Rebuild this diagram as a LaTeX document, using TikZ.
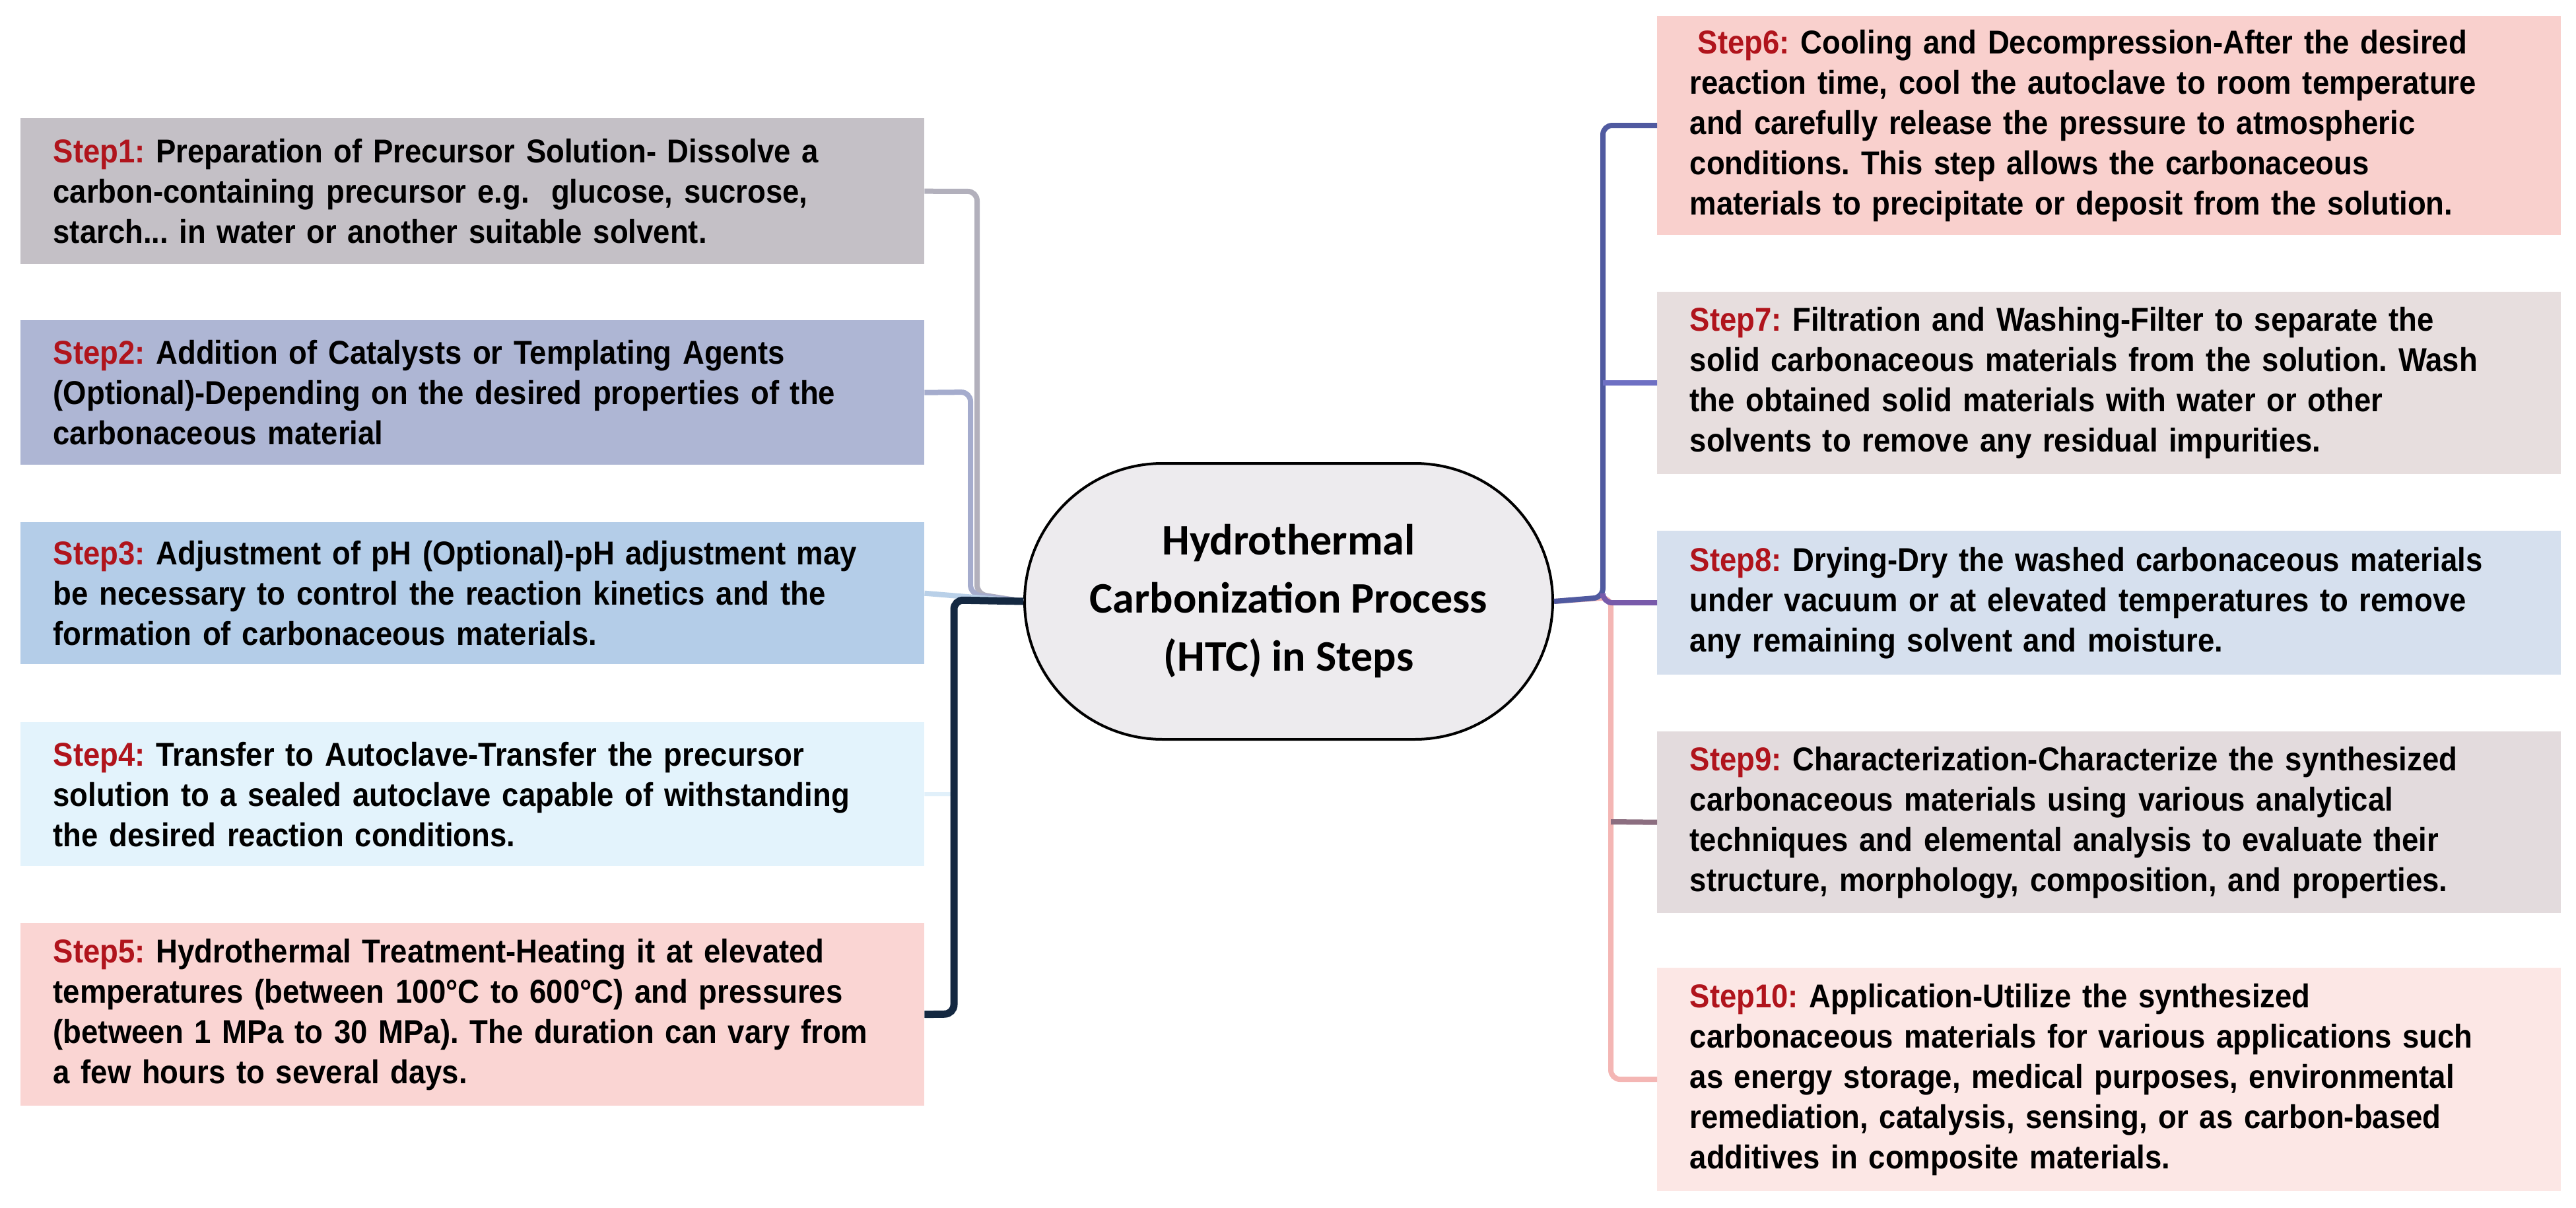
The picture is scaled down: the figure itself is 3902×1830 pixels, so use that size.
\documentclass[tikz,border=0pt]{standalone}
\usepackage{fontspec}
\setmainfont{Liberation Sans}[FakeStretch=0.91]
\newfontfamily\ctrfont{Carlito}
\definecolor{stepred}{HTML}{B0141C}
\usetikzlibrary{shapes.misc}
\frenchspacing
\begin{document}
\begin{tikzpicture}[x=1pt,y=-1pt,
  box/.style={draw=none, rectangle, inner sep=0pt, minimum height=#1, text width=1290pt, align=left,
    font=\fontsize{50}{61}\selectfont\bfseries, anchor=north west},
  lbox/.style={box=#1, minimum width=1369pt, text width=1270pt},
  rbox/.style={box=#1, minimum width=1369pt, text width=1270pt},
  conn/.style={line width=8pt, rounded corners=14pt}]
\useasboundingbox (0,0) rectangle (3902,1830);
\newcommand{\stp}[1]{{\color{stepred}#1}}
% left boxes
\node[lbox=221pt, fill={rgb,255:red,196;green,192;blue,198}] (s1) at (31,179) {\stp{Step1:} Preparation of Precursor Solution- Dissolve a\\carbon-containing precursor e.g.\ \ glucose, sucrose,\\starch... in water or another suitable solvent.};
\node[lbox=219pt, fill={rgb,255:red,174;green,182;blue,212}] (s2) at (31,485) {\stp{Step2:} Addition of Catalysts or Templating Agents\\(Optional)-Depending on the desired properties of the\\carbonaceous material};
\node[lbox=215pt, fill={rgb,255:red,180;green,205;blue,232}] (s3) at (31,791) {\stp{Step3:} Adjustment of pH (Optional)-pH adjustment may\\be necessary to control the reaction kinetics and the\\formation of carbonaceous materials.};
\node[lbox=218pt, fill={rgb,255:red,227;green,243;blue,252}] (s4) at (31,1094) {\stp{Step4:} Transfer to Autoclave-Transfer the precursor\\solution to a sealed autoclave capable of withstanding\\the desired reaction conditions.};
\node[lbox=277pt, fill={rgb,255:red,250;green,213;blue,211}] (s5) at (31,1398) {\stp{Step5:} Hydrothermal Treatment-Heating it at elevated\\temperatures (between 100°C to 600°C) and pressures\\(between 1 MPa to 30 MPa). The duration can vary from\\a few hours to several days.};
% right boxes
\node[rbox=332pt, fill={rgb,255:red,249;green,208;blue,205}] (s6) at (2510,24) {\hspace*{12pt}\stp{Step6:} Cooling and Decompression-After the desired\\reaction time, cool the autoclave to room temperature\\and carefully release the pressure to atmospheric\\conditions. This step allows the carbonaceous\\materials to precipitate or deposit from the solution.};
\node[rbox=276pt, fill={rgb,255:red,231;green,222;blue,222}] (s7) at (2510,442) {\stp{Step7:} Filtration and Washing-Filter to separate the\\solid carbonaceous materials from the solution. Wash\\the obtained solid materials with water or other\\solvents to remove any residual impurities.};
\node[rbox=218pt, fill={rgb,255:red,214;green,224;blue,238}] (s8) at (2510,804) {\stp{Step8:} Drying-Dry the washed carbonaceous materials\\under vacuum or at elevated temperatures to remove\\any remaining solvent and moisture.};
\node[rbox=275pt, fill={rgb,255:red,227;green,219;blue,221}] (s9) at (2510,1108) {\stp{Step9:} Characterization-Characterize the synthesized\\carbonaceous materials using various analytical\\techniques and elemental analysis to evaluate their\\structure, morphology, composition, and properties.};
\node[rbox=338pt, fill={rgb,255:red,252;green,231;blue,229}] (s10) at (2510,1466) {\stp{Step10:} Application-Utilize the synthesized\\carbonaceous materials for various applications such\\as energy storage, medical purposes, environmental\\remediation, catalysis, sensing, or as carbon-based\\additives in composite materials.};
% centre
\node[rounded rectangle, draw=black, line width=4pt, fill={rgb,255:red,237;green,235;blue,238},
  minimum width=800pt, minimum height=418pt, inner sep=0pt, align=center,
  font=\ctrfont\fontsize{66}{88}\selectfont\bfseries] (c) at (1952,911)
  {Hydrothermal\\Carbonization Process\\(HTC) in Steps};
% coordinates
\coordinate (l1) at (1480,290); \coordinate (l1b) at (1480,900);
\coordinate (l2) at (1470,594); \coordinate (l2b) at (1470,900);
\coordinate (l4) at (1445,1203);
\coordinate (l5) at (1445,1536); \coordinate (l5b) at (1445,909);
\coordinate (r6) at (2428,190); \coordinate (r0) at (2428,905);
\coordinate (r7) at (2428,580); \coordinate (r8) at (2428,913);
\coordinate (p0) at (2440,905); \coordinate (p10) at (2440,1635);
\coordinate (p9) at (2440,1245);
% left connectors
\draw[conn, color={rgb,255:red,178;green,176;blue,188}] (s1.east) -- (l1) -- (l1b) -- (c.west);
\draw[conn, color={rgb,255:red,165;green,172;blue,205}] (s2.east) -- (l2) -- (l2b) -- (c.west);
\draw[conn, color={rgb,255:red,185;green,208;blue,232}] (s3.east) -- (c.west);
\draw[conn, line width=6pt, color={rgb,255:red,225;green,240;blue,250}] (s4.east) -- (l4);
\draw[conn, line width=11pt, color={rgb,255:red,20;green,40;blue,65}] (s5.east) -- (l5) -- (l5b) -- (c.west);
% right connectors
\draw[conn, color={rgb,255:red,244;green,182;blue,180}] (c.east) -- (p0) -- (p10) -- (s10.west);
\draw[conn, color={rgb,255:red,140;green,110;blue,128}] (p9) -- (s9.west);
\draw[conn, color={rgb,255:red,80;green,90;blue,160}] (c.east) -- (r0) -- (r6) -- (s6.west);
\draw[conn, color={rgb,255:red,110;green,112;blue,195}] (r7) -- (s7.west);
\draw[conn, color={rgb,255:red,120;green,90;blue,170}] (r0) -- (r8) -- (s8.west);
\end{tikzpicture}
\end{document}
